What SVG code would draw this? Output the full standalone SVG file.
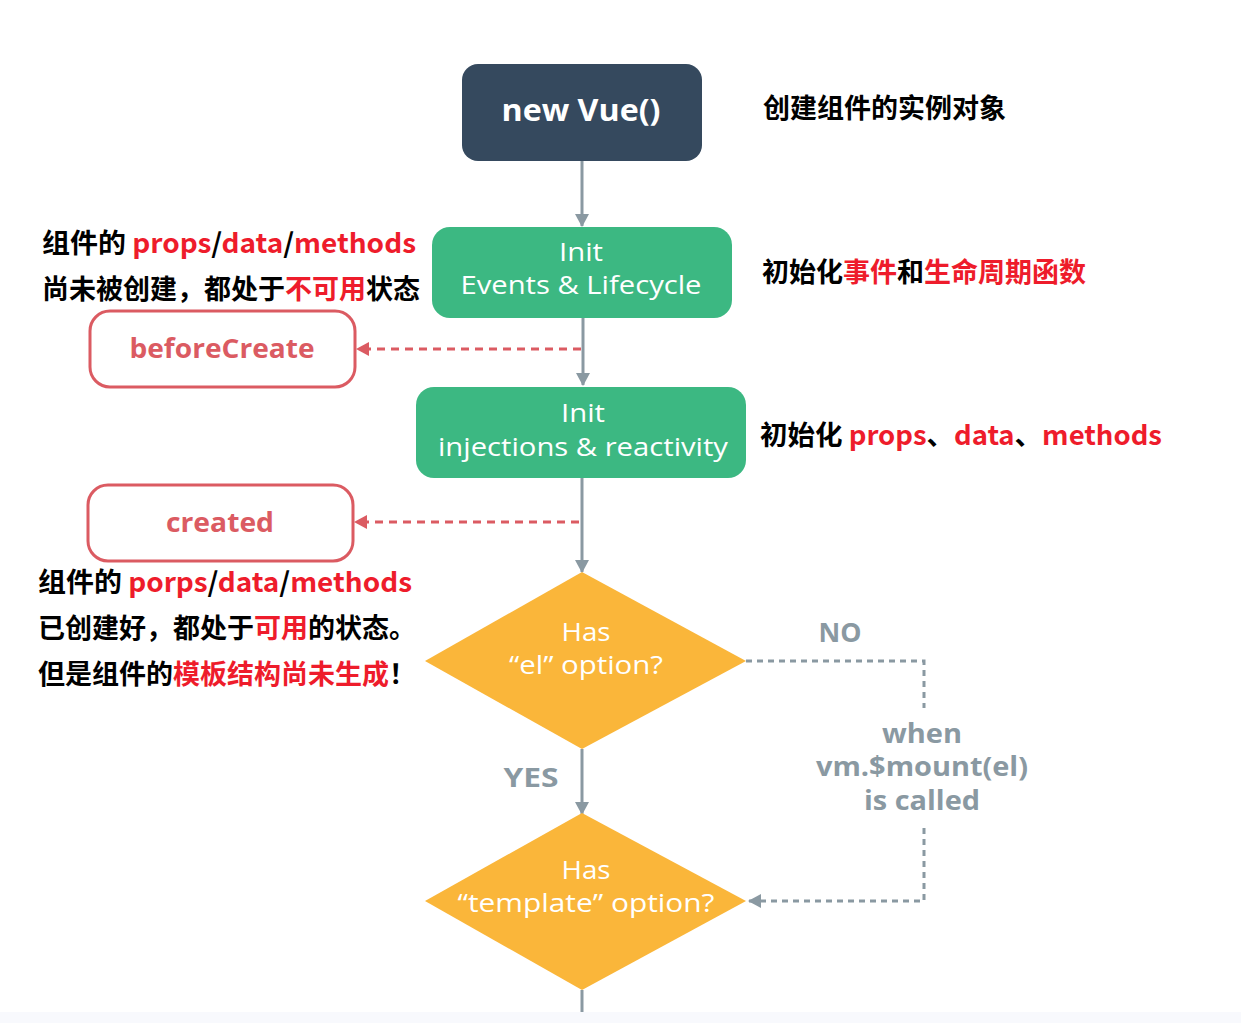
<svg xmlns="http://www.w3.org/2000/svg" width="1241" height="1023" viewBox="0 0 1241 1023">
<defs>
<style>
.lbl{font-family:"Open Sans","DejaVu Sans",sans-serif;fill:#fff;text-anchor:middle}
.hook{font-family:"Open Sans","DejaVu Sans",sans-serif;font-weight:700;fill:#db5b62;text-anchor:middle;font-size:26px}
.note{font-family:"Noto Sans CJK SC",sans-serif;font-weight:700;font-size:27px;fill:#000}
.r{fill:#ee1c2b}
.gl{font-family:"Open Sans","DejaVu Sans",sans-serif;font-weight:700;fill:#8a99a2;text-anchor:middle;font-size:26px}
.flow{stroke:#8a99a2;stroke-width:3;fill:none}
.gdash{stroke:#8a99a2;stroke-width:3;fill:none;stroke-dasharray:6 5}
.rdash{stroke:#db5b62;stroke-width:3;fill:none;stroke-dasharray:8 6}
</style>
<marker id="ag" markerWidth="14" markerHeight="14" refX="12" refY="7" orient="auto" markerUnits="userSpaceOnUse"><path d="M0,0 L13,7 L0,14 Z" fill="#8a99a2"/></marker>
<marker id="ar" markerWidth="14" markerHeight="14" refX="12" refY="7" orient="auto" markerUnits="userSpaceOnUse"><path d="M0,0 L13,7 L0,14 Z" fill="#db5b62"/></marker>
</defs>
<rect x="0" y="0" width="1241" height="1023" fill="#fff"/>
<rect x="0" y="1012" width="1241" height="11" fill="#f8f9fd"/>

<g id="connectors">
<line class="flow" x1="582" y1="161" x2="582" y2="226" marker-end="url(#ag)"/>
<line class="flow" x1="583" y1="318" x2="583" y2="385" marker-end="url(#ag)"/>
<line class="flow" x1="582" y1="478" x2="582" y2="572" marker-end="url(#ag)"/>
<line class="flow" x1="582" y1="749" x2="582" y2="814" marker-end="url(#ag)"/>
<line class="flow" x1="582" y1="990" x2="582" y2="1012"/>
<line class="rdash" x1="581" y1="349" x2="357" y2="349" marker-end="url(#ar)"/>
<line class="rdash" x1="579" y1="522" x2="355" y2="522" marker-end="url(#ar)"/>
<polyline class="gdash" points="746,661 924,661 924,708"/>
<polyline class="gdash" points="924,828 924,901 749,901" marker-end="url(#ag)"/>
<text class="gl" x="840" y="642" textLength="43" lengthAdjust="spacingAndGlyphs">NO</text>
<text class="gl" x="531" y="787" textLength="55" lengthAdjust="spacingAndGlyphs">YES</text>
<text class="gl" x="922" y="743" textLength="80" lengthAdjust="spacingAndGlyphs">when</text>
<text class="gl" x="922" y="776" textLength="212" lengthAdjust="spacingAndGlyphs">vm.$mount(el)</text>
<text class="gl" x="922" y="810" textLength="116" lengthAdjust="spacingAndGlyphs">is called</text>
</g>

<g id="new-vue">
<rect x="462" y="64" width="240" height="97" rx="16" fill="#35495e"/>
<text class="lbl" x="581" y="121" font-size="30" font-weight="700" textLength="159" lengthAdjust="spacingAndGlyphs">new Vue()</text>
</g>
<g id="init-events">
<rect x="432" y="227" width="300" height="91" rx="18" fill="#3cb882"/>
<text class="lbl" x="581" y="261" font-size="26" textLength="44" lengthAdjust="spacingAndGlyphs">Init</text>
<text class="lbl" x="581" y="294" font-size="26" textLength="241" lengthAdjust="spacingAndGlyphs">Events &amp; Lifecycle</text>
</g>
<g id="init-injections">
<rect x="416" y="387" width="330" height="91" rx="18" fill="#3cb882"/>
<text class="lbl" x="583" y="422" font-size="26" textLength="44" lengthAdjust="spacingAndGlyphs">Init</text>
<text class="lbl" x="583" y="456" font-size="26" textLength="290" lengthAdjust="spacingAndGlyphs">injections &amp; reactivity</text>
</g>
<g id="has-el">
<polygon points="582,572 746,661 582,749 425,661" fill="#fab63a"/>
<text class="lbl" x="586" y="641" font-size="26" textLength="49" lengthAdjust="spacingAndGlyphs">Has</text>
<text class="lbl" x="586" y="674" font-size="26" textLength="154" lengthAdjust="spacingAndGlyphs">“el” option?</text>
</g>
<g id="has-template">
<polygon points="582,813 746,901 582,990 425,901" fill="#fab63a"/>
<text class="lbl" x="586" y="879" font-size="26" textLength="49" lengthAdjust="spacingAndGlyphs">Has</text>
<text class="lbl" x="586" y="912" font-size="26" textLength="257" lengthAdjust="spacingAndGlyphs">“template” option?</text>
</g>
<g id="beforeCreate">
<rect x="90" y="311" width="265" height="76" rx="20" fill="#fff" stroke="#db5b62" stroke-width="3"/>
<text class="hook" x="222" y="358" textLength="185" lengthAdjust="spacingAndGlyphs">beforeCreate</text>
</g>
<g id="created">
<rect x="88" y="485" width="265" height="76" rx="20" fill="#fff" stroke="#db5b62" stroke-width="3"/>
<text class="hook" x="220" y="532" textLength="108" lengthAdjust="spacingAndGlyphs">created</text>
</g>

<g id="notes">
<text class="note" x="763" y="118">创建组件的实例对象</text>
<text class="note" x="762" y="282">初始化<tspan class="r">事件</tspan>和<tspan class="r">生命周期函数</tspan></text>
<text class="note" x="760" y="445" textLength="402" lengthAdjust="spacingAndGlyphs">初始化 <tspan class="r">props</tspan>、<tspan class="r">data</tspan>、<tspan class="r">methods</tspan></text>
<text class="note" x="42" y="253" textLength="374" lengthAdjust="spacingAndGlyphs">组件的 <tspan class="r">props</tspan>/<tspan class="r">data</tspan>/<tspan class="r">methods</tspan></text>
<text class="note" x="42" y="299">尚未被创建，都处于<tspan class="r">不可用</tspan>状态</text>
<text class="note" x="38" y="592" textLength="374" lengthAdjust="spacingAndGlyphs">组件的 <tspan class="r">porps</tspan>/<tspan class="r">data</tspan>/<tspan class="r">methods</tspan></text>
<text class="note" x="38" y="638">已创建好，都处于<tspan class="r">可用</tspan>的状态。</text>
<text class="note" x="38" y="684">但是组件的<tspan class="r">模板结构尚未生成</tspan>！</text>
</g>
</svg>
